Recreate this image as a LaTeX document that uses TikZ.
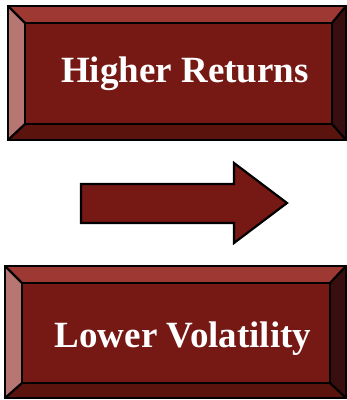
\documentclass[tikz,border=0pt]{standalone}
\usepackage{fontspec}
\setmainfont{Liberation Serif}
\definecolor{face}{RGB}{118,24,19}
\definecolor{btop}{RGB}{158,56,50}
\definecolor{bleft}{RGB}{184,118,114}
\definecolor{bbot}{RGB}{90,20,13}
\definecolor{bright}{RGB}{56,15,14}
\tikzset{
  edge/.style={draw=black,line width=2.2pt,line join=miter},
  lbl/.style={text=white,font=\bfseries\fontsize{37}{42}\selectfont,anchor=base,inner sep=0pt}
}
\newcommand{\bevelbox}[8]{%
  \fill[btop] (#1,#2) -- (#3,#2) -- (#7,#6) -- (#5,#6) -- cycle;
  \fill[bleft] (#1,#2) -- (#5,#6) -- (#5,#8) -- (#1,#4) -- cycle;
  \fill[bbot] (#1,#4) -- (#5,#8) -- (#7,#8) -- (#3,#4) -- cycle;
  \fill[bright] (#3,#2) -- (#3,#4) -- (#7,#8) -- (#7,#6) -- cycle;
  \fill[face] (#5,#6) rectangle (#7,#8);
  \draw[edge] (#1,#2) rectangle (#3,#4);
  \draw[edge] (#5,#6) rectangle (#7,#8);
  \draw[edge] (#1,#2) -- (#5,#6) (#3,#2) -- (#7,#6) (#1,#4) -- (#5,#8) (#3,#4) -- (#7,#8);
}
\begin{document}
\begin{tikzpicture}[x=1pt,y=-1pt]
\useasboundingbox (0,0) rectangle (347,400);
\bevelbox{8}{6}{346}{140}{25}{23}{332}{124}
\node[lbl] (top) at (185,82) {Higher Returns};
\draw[edge,fill=face] (81,184) -- (234,184) -- (234,163) -- (287,203) -- (234,243) -- (234,223) -- (81,223) -- cycle;
\coordinate (arr) at (184,203);
\bevelbox{5}{266}{346}{398}{22}{283}{330}{383}
\node[lbl] (bot) at (183,347) {Lower Volatility};
\end{tikzpicture}
\end{document}
